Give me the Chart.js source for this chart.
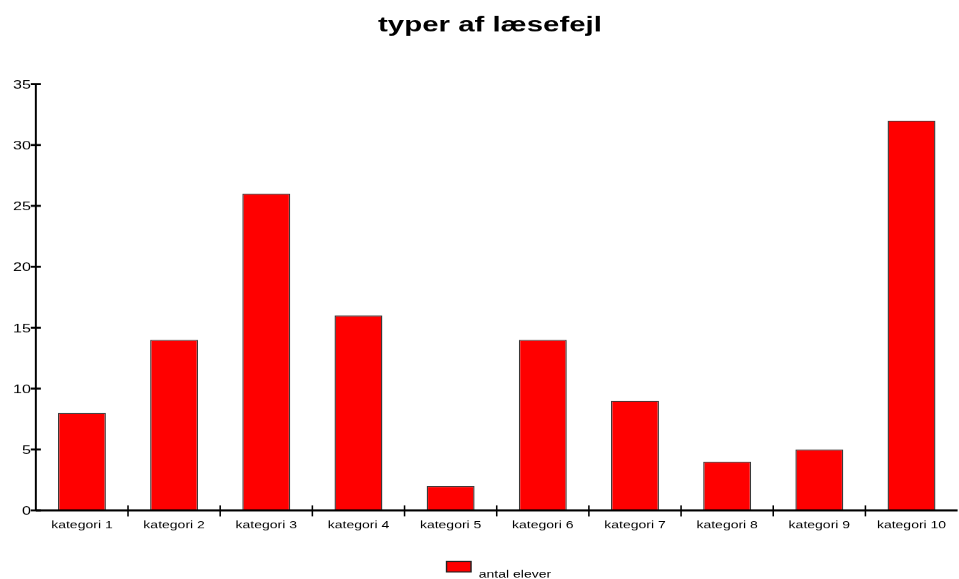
<!DOCTYPE html>
<html lang="da">
<head>
<meta charset="utf-8">
<title>typer af læsefejl</title>
<script src="https://cdn.jsdelivr.net/npm/chart.js@4/dist/chart.umd.min.js"></script>
<style>
  html, body { margin: 0; padding: 0; background: #fff; overflow: hidden; }
  /* the drawing is laid out narrow and widened horizontally, like the wide-set lettering of the chart */
  #wrap { width: 685px; height: 579px; transform: scaleX(1.4); transform-origin: 0 0; }
  canvas { display: block; }
</style>
</head>
<body>
<div id="wrap"><canvas id="c" width="685" height="579" style="width:685px;height:579px"></canvas></div>
<script>
const chartTitle = 'typer af læsefejl';
const seriesLabel = 'antal elever';
const categories = ['kategori 1', 'kategori 2', 'kategori 3', 'kategori 4', 'kategori 5',
                    'kategori 6', 'kategori 7', 'kategori 8', 'kategori 9', 'kategori 10'];
const antalElever = [8, 14, 26, 16, 2, 14, 9, 4, 5, 32];
const yTickValues = [0, 5, 10, 15, 20, 25, 30, 35];

const FONT = '"Liberation Sans", Arial, Helvetica, sans-serif';

// axis lines, crossing tick marks and labels on the value axis, boundary marks between categories
const axisMarks = {
  id: 'axisMarks',
  afterDatasetsDraw(chart) {
    const { ctx, chartArea, scales: { x, y } } = chart;
    const y0 = y.getPixelForValue(0);
    const yTop = y.getPixelForValue(yTickValues[yTickValues.length - 1]);
    ctx.save();
    ctx.strokeStyle = '#000';
    ctx.lineWidth = 2;
    ctx.beginPath();
    ctx.moveTo(chartArea.left, y0);
    ctx.lineTo(chartArea.right, y0);
    ctx.stroke();
    ctx.lineWidth = 1.4;
    ctx.beginPath();
    ctx.moveTo(chartArea.left, yTop);
    ctx.lineTo(chartArea.left, y0);
    ctx.stroke();

    ctx.lineWidth = 2;
    ctx.fillStyle = '#000';
    ctx.font = `11.5px ${FONT}`;
    ctx.textAlign = 'right';
    ctx.textBaseline = 'middle';
    y.ticks.forEach(t => {
      const py = y.getPixelForValue(t.value);
      ctx.beginPath();
      ctx.moveTo(chartArea.left - 3.6, py);
      ctx.lineTo(chartArea.left + 3.6, py);
      ctx.stroke();
      ctx.fillText(String(t.value), chartArea.left - 3.5, py + 1.2);
    });

    ctx.lineWidth = 1.1;
    for (let i = 1; i < categories.length; i++) {
      const px = x.getPixelForValue(i - 0.5);
      ctx.beginPath();
      ctx.moveTo(px, y0 - 5);
      ctx.lineTo(px, y0 + 6);
      ctx.stroke();
    }
    ctx.restore();
  }
};

// legend: colour swatch sitting a little above its label
const legendMark = {
  id: 'legendMark',
  afterDraw(chart) {
    const { ctx, chartArea } = chart;
    const ds = chart.data.datasets[0];
    ctx.save();
    ctx.font = `10px ${FONT}`;
    const boxW = 17.5, boxH = 10.5, gap = 5.5;
    const tw = ctx.measureText(ds.label).width;
    const x0 = (chartArea.left + chartArea.right) / 2 - (boxW + gap + tw) / 2 + 1.5;
    const boxTop = chart.height - 18;
    ctx.fillStyle = ds.backgroundColor;
    ctx.fillRect(x0, boxTop, boxW, boxH);
    ctx.strokeStyle = '#222';
    ctx.lineWidth = 1;
    ctx.strokeRect(x0, boxTop, boxW, boxH);
    ctx.fillStyle = '#000';
    ctx.textAlign = 'left';
    ctx.textBaseline = 'alphabetic';
    ctx.fillText(ds.label, x0 + boxW + gap, chart.height - 2);
    ctx.restore();
  }
};

new Chart(document.getElementById('c'), {
  type: 'bar',
  data: {
    labels: categories,
    datasets: [{
      label: seriesLabel,
      data: antalElever,
      backgroundColor: '#ff0000',
      borderColor: '#3a3a3a',
      borderWidth: 1,
      barPercentage: 0.52,
      categoryPercentage: 1.0
    }]
  },
  options: {
    responsive: false,
    animation: false,
    devicePixelRatio: 1.4,
    layout: { padding: { left: 16, right: 1, top: 0, bottom: 0 } },
    plugins: {
      legend: { display: false },
      tooltip: { enabled: false },
      title: {
        display: true,
        text: chartTitle,
        color: '#000',
        font: { family: FONT, size: 21, weight: 'bold' },
        padding: { top: 13, bottom: 45.8 }
      }
    },
    scales: {
      x: {
        type: 'category',
        offset: true,
        grid: { display: false, drawTicks: false },
        border: { display: false },
        ticks: {
          color: '#000',
          font: { family: FONT, size: 10 },
          padding: 9,
          maxRotation: 0,
          autoSkip: false
        },
        afterFit(scale) { scale.height = 69; }
      },
      y: {
        min: 0,
        max: 35,
        afterBuildTicks(scale) { scale.ticks = yTickValues.map(v => ({ value: v })); },
        grid: { display: false, drawTicks: false },
        border: { display: false },
        ticks: { display: false },
        afterFit(scale) { scale.width = 9.6; }
      }
    }
  },
  plugins: [axisMarks, legendMark]
});
</script>
</body>
</html>
